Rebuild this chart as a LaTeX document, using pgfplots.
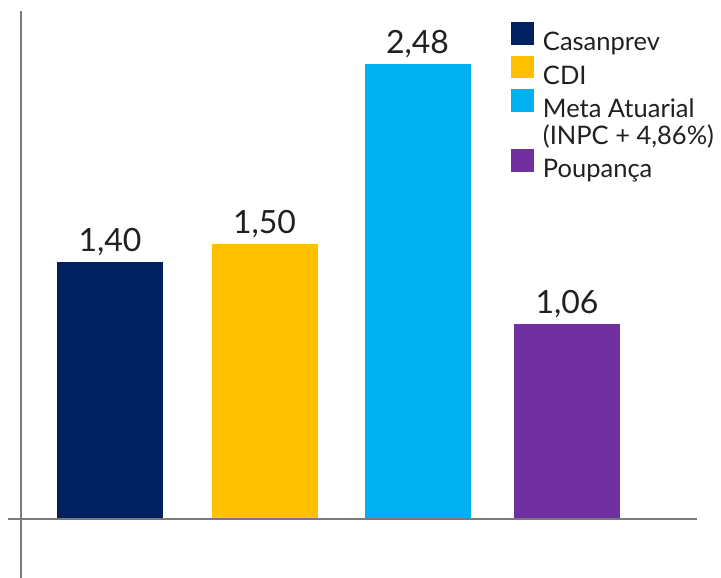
\documentclass[border=0pt]{standalone}
\usepackage{fontspec}
\setmainfont{Lato}
\usepackage{pgfplots}
\pgfplotsset{compat=1.18}
\definecolor{casan}{HTML}{002060}
\definecolor{cdi}{HTML}{FFC000}
\definecolor{meta}{HTML}{00B0F0}
\definecolor{poup}{HTML}{7030A0}
\definecolor{txt}{HTML}{231F20}
\definecolor{axgray}{HTML}{7A7A7A}
\begin{document}
\begin{tikzpicture}
  \useasboundingbox (0,0) rectangle (721bp,578bp);
  \begin{axis}[
      at={(8bp,0bp)}, anchor=south west,
      scale only axis,
      width=689bp, height=567bp,
      xmin=-13, xmax=676,
      ymin=-0.3214, ymax=2.7669,
      axis x line=middle, axis y line=middle,
      axis line style={-, draw=axgray, line width=2.3bp},
      axis on top,
      xtick=\empty, ytick=\empty,
      ybar, bar shift=0pt, bar width=106,
      nodes near coords,
      nodes near coords style={font=\fontsize{32bp}{36bp}\selectfont,
        text=txt, anchor=south, inner sep=0pt, yshift=6bp},
      /pgf/number format/use comma,
      /pgf/number format/fixed,
      /pgf/number format/fixed zerofill,
      /pgf/number format/precision=2,
      /pgf/number format/assume math mode=true,
      legend image code/.code={\fill[#1] (0bp,-2.4bp) rectangle (23bp,20bp);},
      legend cell align=left,
      legend style={draw=none, fill=none, inner sep=0pt, outer sep=0pt,
        at={(axis description cs:0.7300,0.9800)}, anchor=north west,
        font=\fontsize{25.5bp}{32bp}\selectfont, text=txt, row sep=0pt,
        nodes={inner sep=0pt, text height=22bp, text depth=4.8bp},
        /tikz/every odd column/.style={column sep=9bp}},
    ]
    % x in pixel offsets from the vertical axis line
    \addplot[fill=casan, draw=none] coordinates {(89,1.40)};
    \addlegendentry{Casanprev}
    \addplot[fill=cdi, draw=none] coordinates {(243.5,1.50)};
    \addlegendentry{CDI}
    \addplot[fill=meta, draw=none] coordinates {(396.5,2.48)};
    \addlegendentry{Meta Atuarial}
    \addlegendimage{empty legend}
    \addlegendentry{(INPC + 4,86\%)}
    \addplot[fill=poup, draw=none] coordinates {(546,1.06)};
    \addlegendentry{Poupança}
  \end{axis}
\end{tikzpicture}
\end{document}
